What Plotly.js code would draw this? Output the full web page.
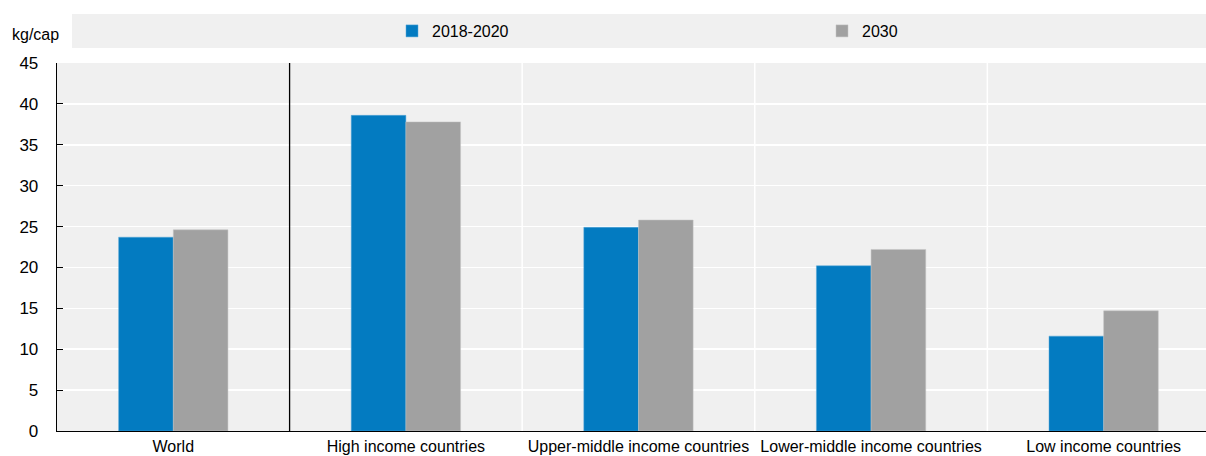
<!DOCTYPE html>
<html><head><meta charset="utf-8">
<script src="https://cdn.plot.ly/plotly-3.0.1.min.js"></script>
<style>body{margin:0;padding:0;background:#fff}#chart{width:1206px;height:456px}</style>
</head><body><div id="chart"></div>
<script>
const categories = ["World", "High income countries", "Upper-middle income countries", "Lower-middle income countries", "Low income countries"];
const values2018 = [23.7, 38.6, 24.9, 20.2, 11.6];
const values2030 = [24.6, 37.8, 25.8, 22.2, 14.7];
const seriesNames = ["2018-2020", "2030"];
const yTicks = [0, 5, 10, 15, 20, 25, 30, 35, 40, 45];

const font = "Arial, 'Liberation Sans', sans-serif";
const px = v => (v - 57) / 1149;
const py = v => (431 - v) / 368;
const traces = [
  {type: "bar", name: seriesNames[0], x: categories, y: values2018, legend: "legend",
   marker: {color: "#037BC1", line: {color: "#5AA8D8", width: 0.5}}},
  {type: "bar", name: seriesNames[1], x: categories, y: values2030, legend: "legend2",
   marker: {color: "#A1A1A1", line: {color: "#C4C4C4", width: 0.5}}}
];
const shapes = [
  {type: "rect", xref: "paper", yref: "paper", x0: px(72), x1: 1, y0: py(48), y1: py(14),
   fillcolor: "#F0F0F0", line: {width: 0}, layer: "below"},
  {type: "line", xref: "x", yref: "paper", x0: 0.5, x1: 0.5, y0: 0, y1: 1, line: {color: "#000", width: 1.3}},
  {type: "line", xref: "x", yref: "paper", x0: 1.5, x1: 1.5, y0: 0, y1: 1, line: {color: "#fff", width: 1.5}, layer: "below"},
  {type: "line", xref: "x", yref: "paper", x0: 2.5, x1: 2.5, y0: 0, y1: 1, line: {color: "#fff", width: 1.5}, layer: "below"},
  {type: "line", xref: "x", yref: "paper", x0: 3.5, x1: 3.5, y0: 0, y1: 1, line: {color: "#fff", width: 1.5}, layer: "below"}
];
const legendBase = {orientation: "h", xanchor: "left", y: py(31), yanchor: "middle",
  bgcolor: "rgba(0,0,0,0)", font: {family: font, size: 16, color: "#000"}, itemwidth: 30};
const layout = {
  width: 1206, height: 456,
  margin: {l: 57, r: 0, t: 63, b: 25, pad: 0, autoexpand: false},
  paper_bgcolor: "#ffffff", plot_bgcolor: "#F0F0F0",
  font: {family: font, size: 16, color: "#000"},
  barmode: "group", bargap: 0.53, bargroupgap: 0,
  showlegend: true,
  legend: Object.assign({}, legendBase, {x: px(392)}),
  legend2: Object.assign({}, legendBase, {x: px(822)}),
  xaxis: {type: "category", range: [-0.5, 4.44], showgrid: false, showline: true, linecolor: "#000", linewidth: 1.3,
          ticks: "", tickfont: {size: 16}, tickangle: 0, automargin: false, fixedrange: true},
  yaxis: {range: [0, 45], tickvals: yTicks, showgrid: true, gridcolor: "#ffffff", gridwidth: 1.5,
          showline: true, linecolor: "#000", linewidth: 1.3, ticks: "inside", ticklen: 6, tickcolor: "#000",
          ticklabelstandoff: 14, tickfont: {size: 17}, zeroline: false, automargin: false, fixedrange: true},
  shapes: shapes,
  annotations: [{text: "kg/cap", xref: "paper", yref: "paper", x: px(10), y: py(34),
                 xanchor: "left", yanchor: "middle", showarrow: false, font: {family: font, size: 16}}]
};
Plotly.newPlot("chart", traces, layout, {displayModeBar: false, staticPlot: true});
</script></body></html>
